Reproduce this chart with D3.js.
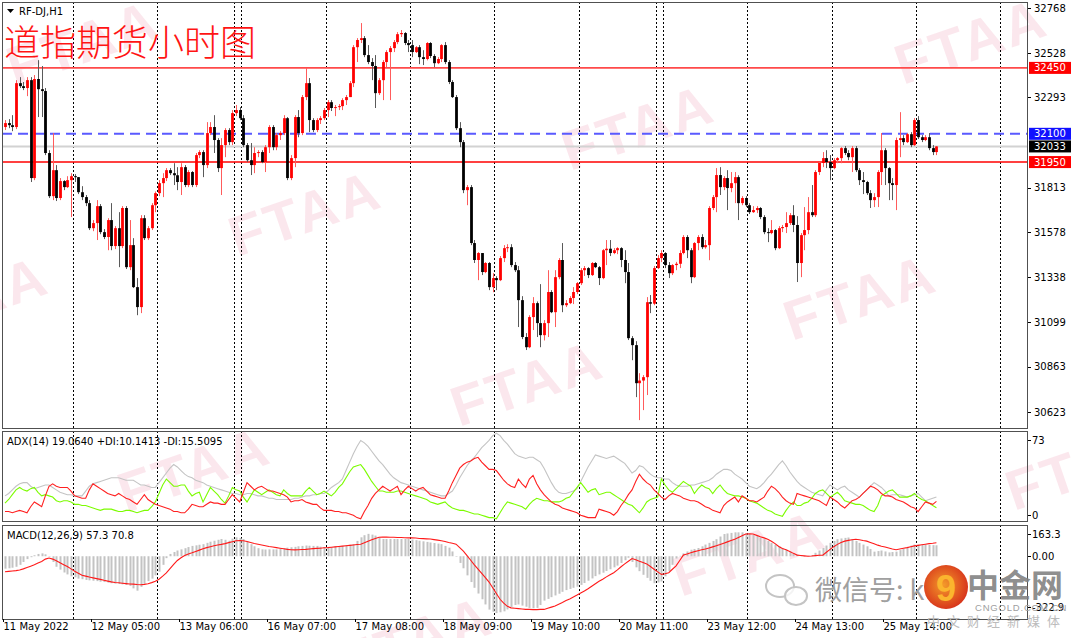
<!DOCTYPE html>
<html><head><meta charset="utf-8">
<script src="https://cdn.jsdelivr.net/npm/d3@7"></script>
<style>html,body{margin:0;padding:0;background:#fff;}svg{display:block;}</style>
</head><body>
<svg id="c" width="1080" height="638"></svg>
<script>
// ---------------- DATA ----------------
const symbolLabel = "RF-DJ,H1";
const chartTitle = "道指期货小时图";
const dateLabels = ["11 May 2022","12 May 05:00","13 May 06:00","16 May 07:00","17 May 08:00","18 May 09:00","19 May 10:00","20 May 11:00","23 May 12:00","24 May 13:00","25 May 14:00"];
const dateLabelBars = [0,24,48,72,96,120,144,168,192,216,240];
const separatorBars = [19,42,63,65,88,111,134,157,178,180,203,226,249,272];
const priceTicks = [32768,32528,32293,31813,31578,31338,31099,30863,30623];
const levelValues = [32450,32100,32033,31950];
const adxTicks = [73,0];
const macdTicks = [163.3,0,-322.9];
const macdTickLabels = ["163.3","0.00","-322.9"];
const adxLegend = "ADX(14) 19.0640 +DI:10.1413 -DI:15.5095";
const macdLegend = "MACD(12,26,9) 57.3 70.8";

const open = [
32136,32157,32146,32136,32369,32353,32343,32385,31865,32391,
32337,32327,31998,31769,31907,31759,31849,31817,31854,31875,
31870,31790,31764,31732,31599,31626,31716,31578,31552,31642,
31504,31599,31504,31706,31392,31509,31286,31180,31652,31546,
31599,31721,31785,31838,31865,31907,31891,31880,31844,31923,
31828,31897,31828,31987,32003,31934,32104,32136,32067,31918,
32040,32120,32056,32210,32226,32183,32040,31960,31934,31998,
32003,31950,32029,32136,32029,32093,32104,32183,31865,31971,
32189,32104,32295,32369,32173,32120,32173,32183,32226,32268,
32237,32242,32247,32279,32295,32369,32560,32598,32608,32518,
32481,32460,32316,32385,32481,32534,32555,32587,32629,32635,
32582,32571,32534,32560,32507,32497,32582,32513,32475,32497,
32571,32481,32375,32295,32130,32056,31801,31817,31520,31430,
31467,31366,31414,31286,31334,31323,31440,31493,31498,31403,
31376,31217,31021,30967,31127,31201,31095,31031,31095,31260,
31153,31339,31430,31190,31201,31228,31260,31307,31376,31387,
31350,31414,31392,31334,31482,31490,31467,31482,31493,31430,
31366,31015,30978,30776,30790,30808,31206,31198,31387,31440,
31467,31403,31360,31403,31410,31467,31552,31482,31339,31520,
31552,31498,31509,31706,31764,31881,31817,31865,31812,31838,
31870,31732,31759,31721,31684,31695,31706,31658,31578,31573,
31589,31493,31599,31605,31626,31668,31616,31414,31562,31589,
31684,31668,31897,31945,31971,31950,31918,31960,31971,32024,
31998,31976,32024,31907,31854,31844,31785,31748,31764,31897,
32013,31918,31838,31828,32067,32077,32056,32098,32040,32173,
32082,32067,32082,32024,32003];
const high = [
32173,32178,32199,32385,32401,32375,32401,32401,32412,32491,
32460,32343,32013,32104,31934,31865,31854,31875,31891,31886,
31870,31822,31775,31748,31642,31748,31727,31594,31652,31732,
31610,31684,31716,31716,31642,31546,31334,31668,31668,31610,
31732,31794,31854,31891,31918,31918,31944,31923,31944,31934,
31907,31902,31998,32013,32013,32162,32162,32199,32077,32077,
32130,32130,32226,32253,32242,32199,32051,32051,32029,32013,
32013,32040,32146,32146,32104,32114,32199,32189,31987,32199,
32226,32306,32449,32396,32183,32183,32194,32237,32279,32279,
32253,32258,32289,32306,32380,32571,32608,32688,32619,32571,
32502,32518,32396,32491,32544,32566,32598,32640,32651,32640,
32598,32598,32566,32571,32544,32587,32587,32523,32507,32576,
32587,32491,32385,32306,32162,32067,31828,31828,31536,31472,
31467,31419,31419,31360,31344,31451,31509,31514,31514,31419,
31398,31238,31042,31137,31233,31210,31302,31111,31376,31270,
31376,31440,31520,31217,31238,31286,31313,31387,31398,31392,
31419,31419,31398,31488,31536,31536,31493,31498,31498,31482,
31414,31026,30999,30829,30819,31233,31244,31398,31456,31482,
31472,31419,31408,31420,31482,31562,31562,31493,31525,31562,
31567,31536,31716,31775,31918,31923,31875,31907,31897,31897,
31880,31769,31769,31732,31716,31716,31711,31668,31599,31642,
31594,31610,31616,31684,31679,31721,31663,31573,31711,31764,
31828,31907,31950,32003,32013,31987,31971,31976,32029,32035,
32013,32035,32035,31918,31897,31850,31801,31785,31907,32104,
32024,31923,31865,32080,32215,32093,32104,32109,32183,32194,
32093,32093,32104,32040,32035];
const low = [
32120,32130,32114,32125,32343,32332,32300,31844,31854,32189,
32189,31987,31759,31748,31743,31748,31801,31812,31658,31844,
31780,31748,31716,31589,31583,31536,31567,31541,31482,31482,
31488,31392,31493,31382,31376,31281,31137,31148,31536,31536,
31589,31684,31769,31764,31849,31881,31828,31801,31775,31817,
31817,31817,31817,31971,31870,31918,32093,31998,31897,31775,
31976,32040,32040,32194,32173,32029,31950,31881,31891,31976,
31944,31897,31998,32013,32013,32067,32093,31854,31854,31923,
32082,32093,32279,32109,32109,32109,32152,32173,32189,32221,
32194,32226,32226,32253,32295,32348,32481,32582,32507,32470,
32385,32237,32306,32279,32454,32279,32534,32576,32614,32571,
32534,32507,32529,32470,32465,32490,32502,32454,32470,32481,
32470,32364,32290,32120,32029,31785,31721,31509,31414,31323,
31350,31360,31270,31259,31270,31318,31419,31472,31392,31366,
31074,31010,30952,30962,31058,31021,30967,31003,31021,31148,
31074,31328,31153,31180,31196,31196,31249,31297,31345,31334,
31345,31387,31297,31328,31403,31451,31461,31461,31392,31307,
31005,30898,30702,30580,30633,30713,31148,31190,31382,31419,
31387,31334,31350,31376,31387,31460,31440,31307,31334,31482,
31488,31490,31429,31695,31684,31775,31801,31695,31790,31732,
31642,31721,31711,31674,31680,31679,31647,31567,31525,31567,
31482,31488,31578,31573,31616,31578,31313,31339,31482,31567,
31658,31658,31881,31923,31918,31854,31912,31944,31944,31987,
31960,31897,31897,31828,31780,31775,31706,31711,31711,31828,
31828,31748,31748,31695,31976,32040,32051,32029,32035,32072,
32056,32061,32013,31987,31987];
const close = [
32157,32146,32136,32369,32353,32343,32385,31865,32391,32337,
32327,31998,31769,31907,31759,31849,31817,31854,31875,31870,
31790,31764,31732,31599,31626,31716,31578,31552,31642,31504,
31599,31504,31706,31392,31509,31286,31180,31652,31546,31599,
31721,31785,31838,31865,31907,31891,31880,31844,31923,31828,
31897,31828,31987,32003,31934,32104,32136,32067,31918,32040,
32120,32056,32210,32226,32183,32040,31960,31934,31998,32003,
31950,32029,32136,32029,32093,32104,32183,31865,31971,32189,
32104,32295,32369,32173,32120,32173,32183,32226,32268,32237,
32242,32247,32279,32295,32369,32560,32598,32608,32518,32481,
32460,32316,32385,32481,32534,32555,32587,32629,32635,32582,
32571,32534,32560,32507,32497,32582,32513,32475,32497,32571,
32481,32375,32295,32130,32056,31801,31817,31520,31430,31467,
31366,31414,31286,31334,31323,31440,31493,31498,31403,31376,
31217,31021,30967,31127,31201,31095,31031,31095,31260,31153,
31339,31430,31190,31201,31228,31260,31307,31376,31387,31350,
31414,31392,31334,31482,31490,31467,31482,31493,31430,31366,
31015,30978,30776,30790,30808,31206,31198,31387,31440,31467,
31403,31360,31403,31410,31467,31552,31482,31339,31520,31552,
31498,31509,31706,31764,31881,31817,31865,31812,31838,31870,
31732,31759,31721,31684,31695,31706,31658,31578,31573,31589,
31493,31599,31605,31626,31668,31616,31414,31562,31589,31684,
31668,31897,31945,31971,31950,31918,31960,31971,32024,31998,
31976,32024,31907,31854,31844,31785,31748,31764,31897,32013,
31918,31838,31828,32067,32077,32056,32098,32040,32173,32082,
32067,32082,32024,32003,32033];

const adx = [
20,22,25,28,30,31,31,28,26,27,
28,29,29,27,25,23,22,21,21,20,
20,20,24,28,30,31,32,33,34,35,
35,35,34,33,33,33,31,29,29,28,
27,27,31,35,39,43,46,44,41,38,
36,35,33,32,31,29,28,27,26,25,
24,23,22,22,21,21,22,22,21,20,
20,19,18,18,17,17,17,17,17,18,
18,19,20,20,21,21,22,22,24,27,
29,31,34,41,48,55,61,66,64,61,
57,53,49,46,42,38,35,33,31,30,
29,28,27,26,25,24,23,22,21,20,
20,22,24,29,35,40,45,49,52,56,
60,63,66,70,72,70,66,63,59,55,
53,52,51,52,52,50,48,43,37,31,
26,23,22,22,23,24,26,32,38,44,
49,54,53,52,51,52,53,51,49,47,
43,39,41,45,44,41,38,36,35,35,
34,34,31,29,28,28,28,29,29,30,
31,32,33,35,38,40,42,42,41,38,
36,34,31,28,27,26,28,31,35,38,
42,46,49,45,40,36,32,29,27,25,
23,22,21,20,25,29,27,25,27,28,
25,23,21,19,22,25,28,31,29,27,
24,20,21,21,21,20,19,20,21,22,
19,16,17,18,19.06];
const plusDI = [
14,17,21,25,27,25,24,26,27,23,
20,21,20,19,16,15,16,16,15,13,
13,12,12,11,10,9,8,9,9,9,
8,7,7,8,8,7,6,7,8,8,
11,15,22,29,34,31,28,28,29,29,
24,20,22,23,15,21,27,24,21,17,
14,20,27,25,24,19,15,20,25,23,
21,23,25,23,21,20,25,22,20,20,
20,20,24,27,24,21,22,24,22,20,
23,27,30,35,40,44,45,46,42,37,
32,28,24,24,23,23,23,24,24,23,
22,21,20,19,18,17,15,14,13,14,
15,12,10,9,8,8,7,6,5,5,
4,3,2,2,1,6,11,15,14,13,
12,11,9,13,16,18,17,16,16,15,
15,15,16,18,19,23,27,31,27,23,
25,26,21,22,23,23,21,19,17,15,
13,12,9,6,10,15,17,18,19,34,
29,25,23,26,29,32,30,28,22,26,
29,27,26,22,26,29,25,22,21,20,
20,19,18,16,15,14,12,10,8,7,
5,4,3,8,12,15,12,12,14,15,
18,22,24,25,22,19,21,23,20,16,
15,14,13,13,12,10,8,7,12,20,
22,24,25,22,19,19,19,20,22,19,
17,16,14,12,10.14];
const minusDI = [
7,7,6,7,8,7,6,11,15,13,
11,20,28,30,28,27,27,27,24,20,
19,18,18,25,30,28,26,24,22,21,
20,22,20,18,17,15,13,17,21,17,
15,13,12,11,10,9,7,7,6,6,
9,13,12,11,11,13,15,14,14,13,
13,17,21,18,15,23,31,28,25,27,
28,26,24,24,23,22,21,19,15,16,
16,17,15,14,13,13,10,8,8,8,
7,7,6,6,5,4,2,1,7,12,
18,22,25,28,26,24,26,28,21,25,
28,26,24,26,27,24,21,20,19,18,
18,24,31,37,43,46,48,49,51,52,
48,45,42,42,41,37,33,30,28,27,
34,30,27,34,37,30,25,21,18,15,
13,12,10,9,8,7,6,4,3,2,
2,2,9,8,7,6,4,7,12,16,
21,25,32,38,34,31,29,25,22,19,
17,20,22,21,20,18,17,16,16,15,
13,11,10,8,7,6,12,15,17,19,
15,20,18,16,16,15,17,19,24,28,
26,23,19,16,14,13,22,21,20,19,
18,17,16,14,12,19,17,15,12,10,
13,16,17,19,22,25,28,27,25,22,
20,20,19,17,16,15,13,11,10,7,
11,15,14,13,15.51];
const macdMain = [
-65,-63,-60,-55,-45,-30,-15,-5,5,12,
15,10,0,-30,-55,-70,-85,-95,-105,-110,
-117,-120,-124,-126,-128,-130,-133,-135,-138,-141,
-143,-145,-147,-150,-155,-168,-180,-160,-144,-130,
-117,-100,-81,-45,-10,12,22,30,36,42,
48,54,57,60,63,70,76,81,86,90,
86,81,92,99,96,90,76,63,52,42,
36,35,36,36,36,39,42,45,47,49,
52,54,56,55,54,54,50,47,45,48,
51,53,54,57,60,63,80,99,110,117,
113,108,99,90,90,90,90,90,90,90,
90,87,84,81,78,75,72,69,66,63,
54,45,25,0,-35,-63,-100,-135,-165,-195,
-225,-252,-279,-290,-297,-293,-288,-278,-265,-255,
-252,-258,-264,-270,-272,-270,-255,-232,-223,-214,
-205,-196,-186,-177,-171,-165,-159,-150,-140,-128,
-116,-104,-95,-86,-77,-68,-58,-49,-35,-21,
-8,-30,-58,-78,-97,-113,-128,-141,-137,-132,
-105,-77,-45,-12,2,15,25,34,38,43,
52,61,70,80,89,103,116,119,122,125,
125,125,120,116,112,107,98,89,80,70,
61,52,43,34,24,15,10,5,0,3,
6,18,30,43,56,70,80,89,93,96,
98,89,80,70,61,52,38,24,27,30,
25,20,22,24,32,40,48,56,61,61,
61,61,59,58,57.3];
const macdSignal = [
-81,-79,-77,-75,-72,-66,-59,-52,-45,-36,
-27,-15,-9,-15,-24,-34,-44,-54,-66,-78,
-89,-99,-104,-109,-113,-117,-121,-126,-130,-134,
-137,-139,-141,-143,-145,-146,-148,-149,-147,-144,
-138,-131,-120,-104,-87,-65,-43,-22,-8,4,
12,18,25,32,39,45,50,55,59,62,
66,71,76,81,82,81,77,72,67,63,
59,55,51,48,45,42,39,36,34,33,
34,35,36,38,40,41,42,44,45,47,
49,51,53,55,57,59,61,63,70,78,
86,93,99,100,100,99,99,98,98,97,
96,96,95,93,92,91,90,87,84,81,
77,72,68,63,45,27,3,-21,-45,-67,
-90,-112,-135,-165,-195,-225,-245,-262,-270,-272,
-274,-276,-278,-278,-279,-279,-278,-278,-272,-266,
-260,-251,-242,-232,-223,-213,-203,-192,-182,-170,
-157,-144,-131,-120,-108,-97,-86,-71,-55,-40,
-26,-12,-18,-26,-33,-40,-54,-68,-82,-95,
-92,-86,-68,-50,-22,6,12,18,24,29,
34,38,43,49,55,61,68,75,82,89,
98,107,116,117,116,109,102,96,89,78,
66,51,40,34,25,15,6,4,2,0,
1,3,5,6,21,36,50,62,72,79,
83,86,89,86,82,79,72,65,58,52,
48,43,38,34,38,42,45,50,54,57,
60,63,66,68,70.8];

// ---------------- LAYOUT ----------------
const W = 1080, H = 638;
const PL = 2, PR = 1028;
const mainP = {top: 2, bottom: 428};
const adxP = {top: 431, bottom: 521};
const macdP = {top: 525, bottom: 619};
const FONT = "'DejaVu Sans', Tahoma, sans-serif";

const svg = d3.select('#c');
svg.append('rect').attr('width', W).attr('height', H).attr('fill', '#fff');

const x = d3.scaleLinear().domain([0, 254]).range([5, 5 + 3.667 * 254]);
const y = d3.scaleLinear().domain([30623, 32768]).range([412, 8]);
const yA = d3.scaleLinear().domain([0, 73]).range([520, 432]);
const yM = d3.scaleLinear().domain([-322.9, 163.3]).range([618, 525]);

const defs = svg.append('defs');
function clip(id, p) {
  defs.append('clipPath').attr('id', id).append('rect')
    .attr('x', PL).attr('y', p.top).attr('width', PR - PL).attr('height', p.bottom - p.top);
}
clip('cm', mainP); clip('ca', adxP); clip('cd', macdP);

// ---- watermarks (FTAA) ----
const wm = svg.append('g');
const wA = [333, -86], wB = [222, 170], wO = [305, 213];
for (let m = -4; m <= 4; m++) for (let n = -4; n <= 4; n++) {
  const cx = wO[0] + m * wA[0] + n * wB[0], cy = wO[1] + m * wA[1] + n * wB[1];
  if (cx < -120 || cx > 1220 || cy < -70 || cy > 710) continue;
  wm.append('text').attr('transform', `translate(${cx},${cy}) rotate(-19)`)
    .attr('text-anchor', 'middle').attr('dominant-baseline', 'central')
    .attr('font-family', "'Liberation Sans', Arial, sans-serif").attr('font-weight', 700)
    .attr('font-size', 56).attr('letter-spacing', 3)
    .attr('fill', 'rgb(232,110,150)').attr('fill-opacity', 0.17).text('FTAA');
}

// ---- separators ----
const sepG = svg.append('g');
[mainP, adxP, macdP].forEach(p => {
  separatorBars.forEach(b => {
    const sx = Math.round(x(b) - 2) + 0.5;
    sepG.append('line').attr('x1', sx).attr('x2', sx).attr('y1', p.top).attr('y2', p.bottom)
      .attr('stroke', '#000').attr('stroke-width', 1).attr('stroke-dasharray', '2,2');
  });
});

// ---- level lines ----
const lvG = svg.append('g').attr('clip-path', 'url(#cm)');
const lvStyle = {32450: {c: '#ff4a4a', w: 1.6, d: null}, 32100: {c: '#5a5aff', w: 2, d: '10,6'},
                 32033: {c: '#d2d2d2', w: 2, d: null}, 31950: {c: '#ff0000', w: 1.6, d: null}};
levelValues.forEach(v => {
  const s = lvStyle[v];
  const l = lvG.append('line').attr('x1', PL).attr('x2', PR).attr('y1', y(v)).attr('y2', y(v))
    .attr('stroke', s.c).attr('stroke-width', s.w);
  if (s.d) l.attr('stroke-dasharray', s.d);
});

// ---- candles ----
const cG = svg.append('g').attr('clip-path', 'url(#cm)');
const idx = d3.range(close.length);
cG.selectAll('line.w').data(idx).join('line').attr('class', 'w')
  .attr('x1', i => Math.round(x(i)) + 0.5).attr('x2', i => Math.round(x(i)) + 0.5)
  .attr('y1', i => y(high[i])).attr('y2', i => y(low[i]))
  .attr('stroke', i => close[i] > open[i] ? '#ff5c5c' : '#5a5a5a').attr('stroke-width', 1);
cG.selectAll('rect.b').data(idx).join('rect').attr('class', 'b')
  .attr('x', i => Math.round(x(i)) + 0.5 - 1.4).attr('width', 2.8)
  .attr('y', i => y(Math.max(open[i], close[i])))
  .attr('height', i => Math.max(1, Math.abs(y(open[i]) - y(close[i]))))
  .attr('fill', i => close[i] > open[i] ? '#ff0000' : '#000');

// ---- ADX panel ----
const aG = svg.append('g').attr('clip-path', 'url(#ca)');
const lineA = arr => d3.line().x((d, i) => x(i)).y(d => yA(d))(arr);
aG.append('path').attr('d', lineA(adx)).attr('fill', 'none').attr('stroke', '#c4c4c4').attr('stroke-width', 1.1);
aG.append('path').attr('d', lineA(plusDI)).attr('fill', 'none').attr('stroke', '#7cfc00').attr('stroke-width', 1.1);
aG.append('path').attr('d', lineA(minusDI)).attr('fill', 'none').attr('stroke', '#ff2020').attr('stroke-width', 1.1);

// ---- MACD panel ----
const mG = svg.append('g').attr('clip-path', 'url(#cd)');
mG.selectAll('rect.h').data(idx).join('rect').attr('class', 'h')
  .attr('x', i => Math.round(x(i)) - 0.5).attr('width', 2)
  .attr('y', i => Math.min(yM(0), yM(macdMain[i])))
  .attr('height', i => Math.max(0.5, Math.abs(yM(macdMain[i]) - yM(0))))
  .attr('fill', '#c3c3c3');
mG.append('path').attr('d', d3.line().x((d, i) => x(i)).y(d => yM(d))(macdSignal))
  .attr('fill', 'none').attr('stroke', '#ff1a1a').attr('stroke-width', 1.1);

// ---- panel borders ----
[mainP, adxP, macdP].forEach(p => {
  svg.append('rect').attr('x', PL + 0.5).attr('y', p.top + 0.5).attr('width', PR - PL - 1).attr('height', p.bottom - p.top)
    .attr('fill', 'none').attr('stroke', '#505050').attr('stroke-width', 1);
});

// ---- right price axis ----
const axG = svg.append('g').attr('font-family', FONT).attr('font-size', 10);
priceTicks.forEach(v => {
  axG.append('line').attr('x1', PR).attr('x2', PR + 3).attr('y1', Math.round(y(v)) + 0.5).attr('y2', Math.round(y(v)) + 0.5).attr('stroke', '#000');
  axG.append('text').attr('x', 1034).attr('y', y(v)).attr('dy', '0.36em').attr('fill', '#000').text(v);
});
const boxCol = {32450: '#ff0000', 32100: '#1010ff', 32033: '#000000', 31950: '#ff0000'};
levelValues.forEach(v => {
  axG.append('rect').attr('x', 1029).attr('y', y(v) - 6).attr('width', 42).attr('height', 12).attr('fill', boxCol[v]);
  axG.append('text').attr('x', 1034).attr('y', y(v)).attr('dy', '0.36em').attr('fill', '#fff').text(v);
});
function subTicks(p, sc, vals, labels, topPad, botPad) {
  vals.forEach((v, k) => {
    const yy = Math.max(p.top + topPad, Math.min(p.bottom - botPad, sc(v)));
    axG.append('line').attr('x1', PR).attr('x2', PR + 3).attr('y1', Math.round(yy) + 0.5).attr('y2', Math.round(yy) + 0.5).attr('stroke', '#000');
    axG.append('text').attr('x', 1032).attr('y', yy).attr('dy', '0.36em').attr('fill', '#000').text(labels ? labels[k] : v);
  });
}
subTicks(adxP, yA, adxTicks, null, 9, 6);
subTicks(macdP, yM, macdTicks, macdTickLabels, 9, 12);

// ---- bottom date axis ----
dateLabelBars.forEach((b, k) => {
  const tx = Math.round(x(b) - 2) + 0.5;
  axG.append('line').attr('x1', tx).attr('x2', tx).attr('y1', macdP.bottom).attr('y2', macdP.bottom + 3).attr('stroke', '#000');
  axG.append('text').attr('x', tx).attr('y', 630).attr('fill', '#000').text(dateLabels[k]);
});

// ---- legends / headers ----
axG.append('path').attr('d', 'M7,9 L14,9 L10.5,13 Z').attr('fill', '#000');
axG.append('text').attr('x', 19).attr('y', 15).attr('fill', '#000').text(symbolLabel);
axG.append('text').attr('x', 7).attr('y', 445).attr('fill', '#000').text(adxLegend);
axG.append('text').attr('x', 7).attr('y', 539).attr('fill', '#000').text(macdLegend);

svg.append('text').attr('x', 4).attr('y', 56)
  .attr('font-family', "'Noto Sans CJK SC', sans-serif").attr('font-weight', 300)
  .attr('font-size', 36).attr('fill', '#ff1414').text(chartTitle);

// ---- bottom-right brand overlay ----
const lg = svg.append('g');
lg.append('ellipse').attr('cx', 780).attr('cy', 586).attr('rx', 14).attr('ry', 11)
  .attr('fill', '#fff').attr('fill-opacity', 0.7).attr('stroke', '#c4c4c4').attr('stroke-width', 2);
lg.append('ellipse').attr('cx', 796).attr('cy', 596).attr('rx', 11).attr('ry', 9)
  .attr('fill', '#fff').attr('fill-opacity', 0.8).attr('stroke', '#c4c4c4').attr('stroke-width', 2);
lg.append('text').attr('x', 815).attr('y', 600).attr('font-family', "'Noto Sans CJK SC', sans-serif")
  .attr('font-size', 27).attr('fill', '#a0a0a0').text('微信号: k');
const grad = defs.append('radialGradient').attr('id', 'lgGrad').attr('cx', '45%').attr('cy', '45%').attr('r', '60%');
grad.append('stop').attr('offset', '0%').attr('stop-color', '#f39a2a');
grad.append('stop').attr('offset', '100%').attr('stop-color', '#d62e1a');
lg.append('circle').attr('cx', 946).attr('cy', 587).attr('r', 22).attr('fill', 'url(#lgGrad)');
lg.append('text').attr('x', 946).attr('y', 588).attr('text-anchor', 'middle').attr('dominant-baseline', 'central')
  .attr('font-family', "'Liberation Sans', sans-serif").attr('font-weight', 700).attr('font-size', 36)
  .attr('fill', '#fbb52e').text('9');
lg.append('text').attr('x', 967).attr('y', 597).attr('font-family', "'Noto Sans CJK SC', sans-serif")
  .attr('font-weight', 700).attr('font-size', 32).attr('fill', '#808080').attr('fill-opacity', 0.9).text('中金网');
lg.append('text').attr('x', 975).attr('y', 611).attr('font-family', "'Liberation Sans', sans-serif")
  .attr('font-size', 9.5).attr('letter-spacing', 0.8).attr('fill', '#a0a0a0').text('CNGOLD.COM.CN');
lg.append('text').attr('x', 927).attr('y', 626).attr('font-family', "'Noto Sans CJK SC', sans-serif")
  .attr('font-size', 13).attr('letter-spacing', 7).attr('fill', '#bcbcbc').text('中文财经新媒体');
</script>
</body></html>
